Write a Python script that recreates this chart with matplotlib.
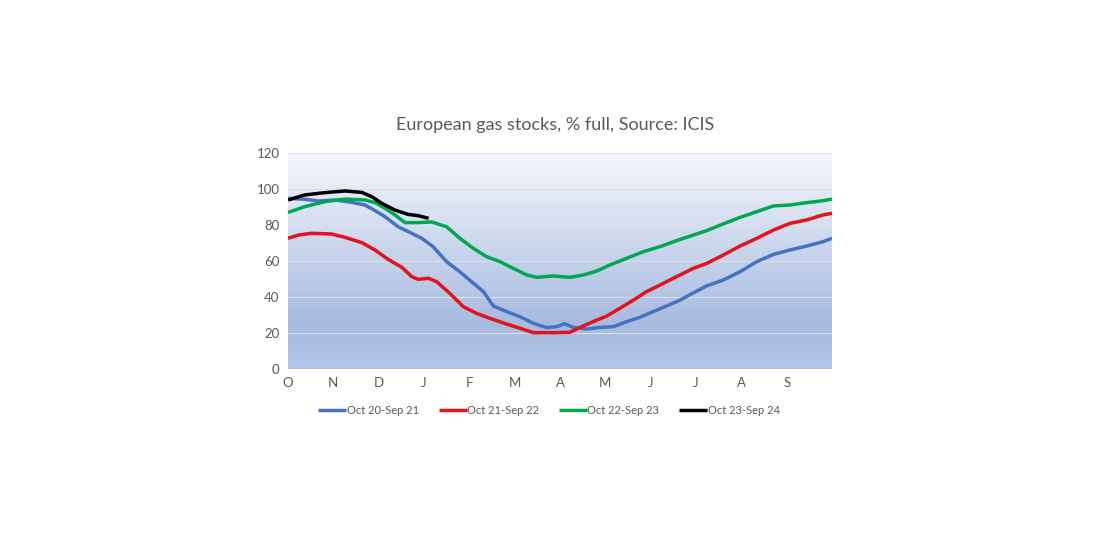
import numpy as np
import matplotlib
matplotlib.use("Agg")
import matplotlib.pyplot as plt
from matplotlib.colors import LinearSegmentedColormap

plt.rcParams['font.family'] = ['Lato', 'DejaVu Sans']

# x positions in months from 1 October (0 = Oct 1, 12 = end of Sep)
months = ['O', 'N', 'D', 'J', 'F', 'M', 'A', 'M', 'J', 'J', 'A', 'S']

x_2021 = [0.0, 0.37, 0.67, 1.04, 1.4, 1.7, 1.92, 2.14, 2.43, 2.73, 2.95, 3.2, 3.5,
          3.79, 4.09, 4.31, 4.53, 4.82, 5.12, 5.41, 5.71, 5.93, 6.1, 6.29, 6.59,
          6.88, 7.18, 7.47, 7.76, 8.06, 8.35, 8.65, 8.94, 9.24, 9.6, 9.97, 10.34,
          10.71, 11.07, 11.44, 11.8, 12.0]
y_2021 = [94.8, 94.3, 93.3, 93.9, 92.6, 91.1, 88.0, 84.6, 79.0, 75.4, 72.6, 68.0, 59.6,
          54.0, 47.6, 43.0, 35.0, 31.9, 29.0, 25.4, 23.0, 23.5, 25.2, 23.1, 22.2,
          23.1, 23.5, 26.3, 28.7, 31.9, 35.0, 38.3, 42.3, 46.2, 49.4, 54.0, 59.6,
          63.7, 66.1, 68.3, 70.7, 72.6]

x_2122 = [0.0, 0.23, 0.52, 0.96, 1.26, 1.63, 1.92, 2.21, 2.51, 2.73, 2.87, 3.1, 3.28,
          3.57, 3.87, 4.16, 4.46, 4.82, 5.12, 5.41, 5.85, 6.22, 6.44, 6.73, 7.03,
          7.32, 7.62, 7.91, 8.21, 8.57, 8.94, 9.24, 9.6, 9.97, 10.34, 10.71, 11.07,
          11.44, 11.8, 12.0]
y_2122 = [72.6, 74.4, 75.4, 75.0, 73.1, 70.2, 66.1, 60.9, 56.5, 51.3, 49.8, 50.4, 48.5,
          42.0, 34.6, 30.9, 28.1, 25.0, 22.6, 20.2, 20.2, 20.4, 23.1, 26.3, 29.4,
          33.7, 38.3, 43.0, 46.7, 51.3, 55.9, 58.7, 63.3, 68.3, 72.6, 77.2, 80.9,
          82.8, 85.6, 86.5]

x_2223 = [0.0, 0.37, 0.82, 1.26, 1.7, 1.92, 2.14, 2.36, 2.58, 2.87, 3.17, 3.5, 3.79,
          4.09, 4.38, 4.68, 4.97, 5.27, 5.49, 5.85, 6.22, 6.51, 6.81, 7.1, 7.47,
          7.84, 8.21, 8.57, 8.94, 9.24, 9.6, 9.97, 10.34, 10.71, 11.07, 11.44, 11.8,
          12.0]
y_2223 = [87.0, 90.2, 93.0, 94.4, 93.9, 92.4, 89.3, 85.6, 81.3, 81.3, 81.7, 79.0, 72.6,
          67.0, 62.4, 59.6, 55.9, 52.2, 50.9, 51.7, 50.9, 52.2, 54.4, 57.8, 61.5,
          65.2, 68.0, 71.3, 74.4, 76.9, 80.6, 84.2, 87.4, 90.6, 91.1, 92.4, 93.5,
          94.4]

x_2324 = [0.0, 0.37, 0.82, 1.26, 1.63, 1.85, 2.07, 2.36, 2.65, 2.87, 3.1]
y_2324 = [93.9, 96.7, 98.0, 98.9, 98.1, 95.7, 92.0, 88.3, 85.9, 85.2, 83.7]

series = [
    (x_2021, y_2021, '#4472c4', 'Oct 20-Sep 21'),
    (x_2122, y_2122, '#e3121b', 'Oct 21-Sep 22'),
    (x_2223, y_2223, '#00a850', 'Oct 22-Sep 23'),
    (x_2324, y_2324, '#000000', 'Oct 23-Sep 24'),
]

fig = plt.figure(figsize=(11.04, 5.43), dpi=100)
ax = fig.add_axes([288 / 1104, 1 - 369 / 543, 544 / 1104, 216 / 543])

# gradient background like the Excel fill
cmap = LinearSegmentedColormap.from_list(
    'bg', [(0.0, '#f5f7fc'), (0.45, '#c9d5ed'), (0.8, '#a7bbdf'), (1.0, '#b4c6e6')])
grad = np.linspace(0, 1, 256).reshape(-1, 1)
ax.imshow(grad, cmap=cmap, aspect='auto', extent=[0, 12, 0, 120],
          origin='upper', zorder=0)

for y in range(20, 121, 20):
    ax.axhline(y, color='#dcdfe6', lw=0.8, zorder=1)

for xs, ys, c, lab in series:
    ax.plot(xs, ys, color=c, lw=2.5, label=lab, zorder=3, solid_capstyle='butt')

ax.set_xlim(0, 12)
ax.set_ylim(0, 120)
ax.set_yticks(range(0, 121, 20))
ax.set_xticks(range(12))
ax.set_xticklabels(months)
for s in ax.spines.values():
    s.set_visible(False)
ax.tick_params(length=0, labelsize=9.5, labelcolor='#595959', pad=6)

fig.text(555 / 1104, 1 - 125 / 543, 'European gas stocks, % full, Source: ICIS',
         ha='center', va='center', fontsize=13, color='#595959')

fig.legend(loc='center', bbox_to_anchor=(549 / 1104, 1 - 410 / 543), ncol=4,
           frameon=False, fontsize=8, handlelength=2.5, handletextpad=0.05,
           columnspacing=1.8, labelcolor='#595959')

fig.savefig('out.png', dpi=100, facecolor='white')
